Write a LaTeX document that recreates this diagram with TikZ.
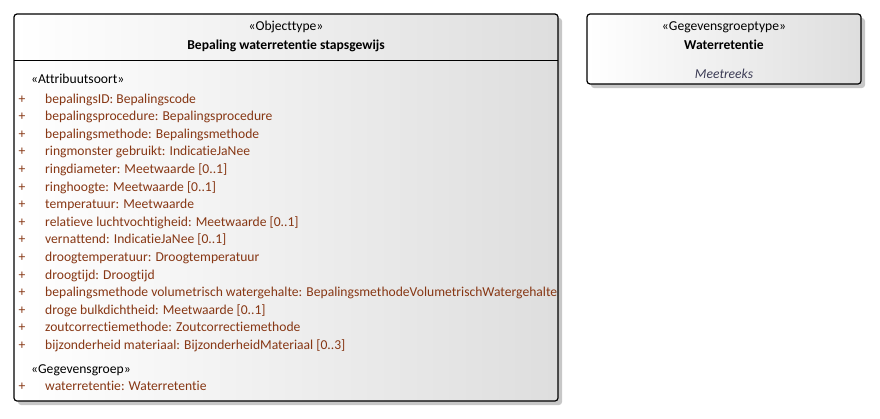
\documentclass[tikz,border=0pt]{standalone}
\usepackage{fontspec}
\setmainfont{Carlito}[Ligatures=NoCommon]
\usetikzlibrary{positioning}
\definecolor{attrbrown}{RGB}{135,55,20}
\definecolor{notegray}{RGB}{60,60,85}

\begin{document}
\begin{tikzpicture}[
  x=1pt, y=-1pt,
  umlbox/.style={
    draw=black,
    line width=1.2pt,
    rounded corners=3pt,
    left color=white,
    right color=black!13
  },
  umlshadow/.style={
    fill=black!22,
    rounded corners=3pt
  },
  stereo/.style={
    font=\fontsize{13.6}{15}\selectfont,
    inner sep=0pt,
    anchor=base
  },
  title/.style={
    stereo,
    font=\fontsize{13.6}{15}\selectfont\bfseries
  },
  attr/.style={
    font=\fontsize{13.6}{15}\selectfont,
    text=attrbrown,
    inner sep=0pt,
    anchor=base west
  },
  plus/.style={
    font=\fontsize{13.6}{15}\selectfont,
    text=attrbrown,
    inner sep=0pt,
    anchor=base
  }
]
\useasboundingbox (0,0) rectangle (880,418);

% objecttype
\fill [umlshadow] (18,18) rectangle (562,405);
\draw [umlbox] (14,14) rectangle (558,401);
\draw [line width=1pt] (14,60) -- (558,60);
\node [stereo] (otstereo) at (286,30) {«Objecttype»};
\node [title] (otname) at (286,49) {Bepaling waterretentie stapsgewijs};

\node [stereo, anchor=base west] (attrhead) at (31,83) {«Attribuutsoort»};
\foreach \t [count=\i from 0] in {
  bepalingsID: Bepalingscode,
  bepalingsprocedure: Bepalingsprocedure,
  bepalingsmethode: Bepalingsmethode,
  ringmonster gebruikt: IndicatieJaNee,
  ringdiameter: Meetwaarde [0..1],
  ringhoogte: Meetwaarde [0..1],
  temperatuur: Meetwaarde,
  relatieve luchtvochtigheid: Meetwaarde [0..1],
  vernattend: IndicatieJaNee [0..1],
  droogtemperatuur: Droogtemperatuur,
  droogtijd: Droogtijd,
  bepalingsmethode volumetrisch watergehalte: BepalingsmethodeVolumetrischWatergehalte,
  droge bulkdichtheid: Meetwaarde [0..1],
  zoutcorrectiemethode: Zoutcorrectiemethode,
  bijzonderheid materiaal: BijzonderheidMateriaal [0..3]
}{
  \node [plus] (plus\i) at (22,103+17.6*\i) {+};
  \node [attr] (attr\i) at (45,103+17.6*\i) {\t};
}

\node [stereo, anchor=base west] (grphead) at (31,373) {«Gegevensgroep»};
\node [plus] (grpplus) at (22,390) {+};
\node [attr] (grpattr) at (45,390) {waterretentie: Waterretentie};

% gegevensgroeptype
\fill [umlshadow] (591,18) rectangle (865,88);
\draw [umlbox] (587,14) rectangle (861,84);
\node [stereo] (ggstereo) at (724,30) {«Gegevensgroeptype»};
\node [title] (ggname) at (724,49) {Waterretentie};
\node [stereo, font=\fontsize{13.6}{15}\selectfont\itshape, text=notegray]
  (ggtag) at (724,78) {Meetreeks};

\end{tikzpicture}
\end{document}
